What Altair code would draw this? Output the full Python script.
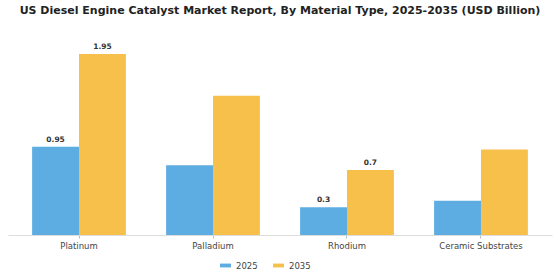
import altair as alt
import pandas as pd

categories = ["Platinum", "Palladium", "Rhodium", "Ceramic Substrates"]
years = ["2025", "2035"]
values_2025 = [0.95, 0.75, 0.3, 0.37]
values_2035 = [1.95, 1.5, 0.7, 0.92]
labels_2025 = ["0.95", "", "0.3", ""]
labels_2035 = ["1.95", "", "0.7", ""]

rows = []
for i, c in enumerate(categories):
    rows.append({"Material": c, "Year": "2025", "Value": values_2025[i], "Label": labels_2025[i]})
    rows.append({"Material": c, "Year": "2035", "Value": values_2035[i], "Label": labels_2035[i]})
df = pd.DataFrame(rows)

x = alt.X("Material:N", sort=categories,
          scale=alt.Scale(paddingInner=0.3, paddingOuter=0.18),
          axis=alt.Axis(title=None, labelAngle=0, labelFontSize=8.5, labelColor="#444",
                        labelFont="DejaVu Sans", domainColor="#dddddd", tickColor="#bbbbbb",
                        tickSize=3, labelPadding=3))
y = alt.Y("Value:Q", scale=alt.Scale(domain=[0, 2.1], nice=False), axis=None)
color = alt.Color("Year:N", sort=years,
                  scale=alt.Scale(domain=years, range=["#5DADE2", "#F7C04A"]),
                  legend=alt.Legend(title=None, orient="none", direction="horizontal",
                                    legendX=211, legendY=219,
                                    symbolType="M-1,-0.35L1,-0.35L1,0.35L-1,0.35Z",
                                    symbolSize=120, labelFontSize=8.5, labelColor="#444",
                                    labelFont="DejaVu Sans", columnPadding=14))

base = alt.Chart(df).encode(x=x, xOffset=alt.XOffset("Year:N", sort=years))
bars = base.mark_bar().encode(y=y, color=color)
text = base.mark_text(dy=-7, fontSize=7.5, fontWeight="bold", color="#333", font="DejaVu Sans").encode(
    y=y, text="Label:N")

chart = (bars + text).properties(
    width=544, height=195,
    title=alt.TitleParams("US Diesel Engine Catalyst Market Report, By Material Type, 2025-2035 (USD Billion)",
                          fontSize=11, font="DejaVu Sans", fontWeight="bold", color="#222", offset=24),
    autosize=alt.AutoSizeParams(type="none"),
    padding={"left": 8, "right": 8, "top": 40, "bottom": 45},
).configure(background="white", view=alt.ViewConfig(stroke=None, strokeWidth=0))

chart.save("out.html", embed_options={"renderer": "svg", "actions": False})
